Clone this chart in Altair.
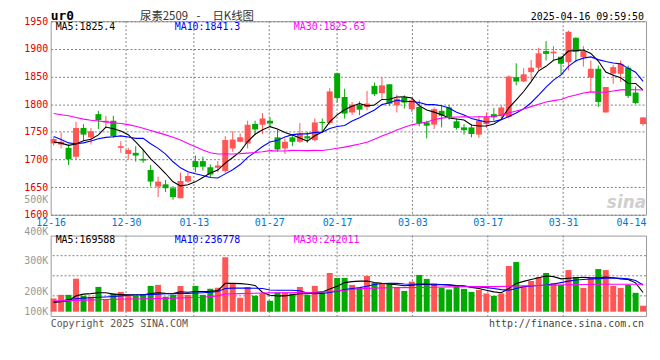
import altair as alt
import pandas as pd

# ---------------- data ----------------
dates = ["12-16","12-17","12-18","12-19","12-20","12-23","12-24","12-25","12-26","12-27","12-30","12-31",
         "01-02","01-03","01-06","01-07","01-08","01-09","01-10","01-13","01-14","01-15","01-16","01-17",
         "01-20","01-21","01-22","01-23","01-24","01-27",
         "02-05","02-06","02-07","02-10","02-11","02-12","02-13","02-14","02-17","02-18","02-19","02-20",
         "02-21","02-24","02-25","02-26","02-27","02-28",
         "03-03","03-04","03-05","03-06","03-07","03-10","03-11","03-12","03-13","03-14","03-17","03-18",
         "03-19","03-20","03-21","03-24","03-25","03-26","03-27","03-28","03-31",
         "04-01","04-02","04-03","04-07","04-08","04-09","04-10","04-11","04-14","04-15","04-16"]

opens = [1729,1727,1721,1705,1757,1740,1782,1767,1770,1721,
         1710,1712,1701,1681,1651,1655,1648,1630,1660,1697,
         1697,1686,1685,1679,1720,1732,1729,1764,1763,1770,
         1740,1720,1740,1732,1742,1735,1768,1766,1856,1813,
         1785,1799,1795,1833,1820,1836,1798,1812,1791,1795,
         1767,1763,1788,1794,1769,1758,1758,1745,1764,1782,
         1779,1777,1849,1841,1858,1866,1896,1892,1886,1876,
         1920,1885,1848,1864,1785,1855,1855,1866,1821,1764]
highs = [1740,1749,1727,1768,1764,1757,1788,1779,1779,1733,
         1721,1724,1718,1690,1669,1663,1652,1676,1676,1707,
         1705,1691,1697,1742,1751,1747,1770,1770,1784,1776,
         1754,1738,1746,1766,1750,1774,1774,1829,1857,1828,
         1804,1805,1824,1839,1848,1836,1817,1816,1810,1807,
         1770,1794,1798,1799,1774,1764,1764,1778,1785,1793,
         1798,1852,1874,1865,1880,1902,1914,1905,1886,1933,
         1921,1905,1879,1870,1831,1871,1879,1870,1832,1777]
lows = [1725,1720,1690,1699,1734,1727,1755,1757,1739,1712,
        1700,1696,1694,1651,1632,1641,1627,1630,1658,1677,
        1680,1667,1677,1676,1714,1731,1720,1744,1746,1758,
        1714,1710,1724,1730,1730,1733,1750,1763,1803,1774,
        1780,1780,1789,1815,1810,1797,1785,1792,1786,1760,
        1738,1755,1758,1772,1754,1745,1740,1739,1757,1770,
        1774,1774,1834,1840,1843,1861,1879,1880,1854,1861,
        1876,1868,1822,1795,1785,1837,1840,1811,1800,1761]
closes = [1737,1732,1700,1757,1745,1751,1771,1770,1742,1724,
          1717,1707,1698,1660,1660,1648,1632,1661,1670,1686,
          1687,1673,1689,1735,1736,1740,1763,1754,1774,1765,
          1718,1732,1732,1746,1738,1767,1766,1823,1811,1783,
          1799,1790,1801,1818,1834,1801,1810,1803,1807,1766,
          1761,1791,1779,1777,1757,1753,1746,1770,1777,1776,
          1794,1850,1841,1854,1866,1892,1891,1895,1873,1931,
          1895,1896,1864,1804,1831,1867,1873,1815,1802,1776]

ma5 = [1731.6,1729.5,1725.5,1728,1734,1736.7,1744.5,1758.6,1755.6,1751.4,
       1744.8,1731.9,1717.5,1701.2,1688.5,1674.6,1659.6,1652.2,1654.2,1659.5,
       1667.3,1675.4,1680.7,1693.5,1703.5,1714.2,1732.4,1745.6,1753.6,1759.4,
       1755,1748.7,1744.2,1738.7,1733.2,1742.9,1749.7,1767.9,1780.7,1789.9,
       1796.3,1801.3,1797,1798.5,1808.6,1808.9,1812.9,1813.2,1811.1,1797.4,
       1789.4,1785.6,1780.9,1774.9,1773.1,1771.5,1762.4,1760.5,1760.5,1764.3,
       1772.5,1793.3,1807.6,1822.9,1840.8,1860.4,1868.5,1879.3,1883.1,1896.2,
       1896.9,1898.1,1891.8,1878.1,1858.1,1852.4,1847.6,1837.9,1837.5,1825.4]
ma10 = [1741.5,1736,1730,1728.5,1730,1733.5,1737.5,1740,1741,1742.7,
        1740.7,1738.2,1738.1,1728.4,1720,1709.7,1695.8,1684.9,1677.7,1674,
        1671,1667.5,1666.5,1673.9,1681.5,1690.8,1703.9,1713.2,1723.5,1731.5,
        1734.6,1740.6,1744.9,1746.2,1746.3,1749,1749.2,1756,1759.7,1761.5,
        1769.6,1775.5,1782.5,1789.6,1799.2,1802.6,1807.1,1805.1,1804.8,1803,
        1799.2,1799.2,1797,1793,1785.3,1780.4,1774,1770.7,1767.7,1768.7,
        1772,1777.9,1784.1,1791.7,1802.6,1816.5,1830.9,1843.5,1853,1868.5,
        1878.6,1883.3,1885.5,1880.6,1877.1,1874.6,1872.9,1864.8,1857.8,1841.3]
ma30 = [1783,1781,1779,1776,1773,1771,1769.5,1768,1766.5,1765,
        1763,1760,1756.5,1752.5,1748.5,1744.5,1740,1735,1729,1723,
        1717,1712,1710,1710,1710,1710.5,1711.5,1712.5,1714,1716,
        1715.4,1715.4,1716.5,1716.2,1715.9,1716.4,1716.2,1718,1720.3,1722.3,
        1725,1727.8,1731.2,1736.5,1742.3,1747.4,1753.4,1758.1,1762.7,1765.3,
        1767.8,1771.8,1774.8,1776.2,1776.9,1777.3,1776.7,1777.2,1777.3,1777.7,
        1780.2,1784.1,1787.8,1791.4,1795.6,1799.8,1804,1806.4,1808.5,1813.4,
        1816.6,1820.1,1822.2,1821.7,1821.6,1823.8,1825.9,1826.3,1826.1,1825.63]

# volumes in thousands
vol_k = [117,149,149,292,140,132,219,105,161,175,
         149,140,149,228,237,132,149,228,149,228,
         149,202,211,482,249,123,219,140,161,96,
         170,170,161,219,149,228,170,342,298,298,
         237,211,316,254,249,254,219,184,266,325,
         290,249,211,196,228,202,175,193,161,140,
         161,404,439,228,272,307,342,254,237,368,
         307,211,298,377,368,228,211,237,167,53]
vma5_k = [82,88,98,140,155,160,168,168,155,152,
          150,150,150,160,168,162,160,176,172,178,
          178,180,186,250,250,248,243,232,170,145,
          140,140,150,158,160,168,175,200,225,257,
          266,270,272,258,250,245,238,230,234,240,
          243,236,240,238,232,228,215,205,190,175,
          168,205,250,268,285,300,315,310,290,295,
          300,305,300,300,307,300,290,285,255,169.588]
vma10_k = [88,95,108,115,120,123,127,130,134,140,
           145,148,150,152,155,158,160,162,162,165,
           168,172,178,205,208,208,208,207,205,192,
           190,190,190,185,165,160,162,170,180,195,
           205,213,225,240,249,252,250,245,243,245,
           245,242,240,235,230,225,222,218,213,205,
           195,190,205,220,228,232,235,245,257,270,
           280,285,290,292,295,297,295,290,275,236.778]
vma30_idx = [0,2,4,6,8,10,12,14,16,18,20,22,23,25,27,29,31,33,35,37,
             39,41,43,45,47,49,51,53,55,57,59,61,63,65,67,69,71,73,75,77,79]
vma30_k = [94,98,102,106,110,112,114,117,120,123,127,140,156,160,163,166,168,170,172,178,
           190,203,208,212,213,214,216,219,220,222,222,225,228,232,235,238,240,242,243,243,242.011]

axis_dates = ["12-16","12-30","01-13","01-27","02-17","03-03","03-17","03-31","04-14"]
grid_dates = axis_dates[1:-1]
price_ticks = [1600, 1650, 1700, 1750, 1800, 1850, 1900, 1950]
vol_tick_values = [0, 178000, 448000, 708000, 992000]
vol_tick_labels = ["100K", "200K", "300K", "400K", "500K"]

# ---------------- styling ----------------
RED = "#ff5555"
GREEN = "#00aa00"
GRID = "#808080"
MONO = "DejaVu Sans Mono"
CJK = "Noto Sans CJK SC"
W, H1, H2 = 600, 195, 81

df = pd.DataFrame({
    "date": dates, "open": opens, "high": highs, "low": lows, "close": closes,
    "ma5": ma5, "ma10": ma10, "ma30": ma30,
    "vol": [v * 1000 for v in vol_k],
    "vma5": [v * 1000 for v in vma5_k],
    "vma10": [v * 1000 for v in vma10_k],
})
df["dir"] = ["up" if c >= o else "down" for o, c in zip(opens, closes)]
df30 = pd.DataFrame({"date": [dates[i] for i in vma30_idx],
                     "vma30": [v * 1000 for v in vma30_k]})

xband = alt.Scale(type="band", domain=dates, paddingInner=0.2, paddingOuter=0)
xpoint = alt.Scale(type="point", domain=dates, padding=0)
yprice = alt.Scale(domain=[1600, 1950], nice=False, zero=False)
yvol = alt.Scale(domain=[0, 1000000], range=[76.7, -37.3], nice=False, zero=False)
color = alt.Color("dir:N", scale=alt.Scale(domain=["up", "down"], range=[RED, GREEN]), legend=None)

price_axis = alt.Axis(values=price_ticks, format="d", grid=True, gridColor=GRID, gridDash=[2, 2],
                      domain=False, ticks=False, labelColor="#e00000", labelFont=MONO,
                      labelFontSize=10, labelPadding=3, title=None)

# build labelExpr from tick lists
expr = "'" + vol_tick_labels[-1] + "'"
for k in range(len(vol_tick_values) - 2, -1, -1):
    mid = (vol_tick_values[k] + vol_tick_values[k + 1]) / 2
    expr = f"datum.value < {mid} ? '{vol_tick_labels[k]}' : ({expr})"
vol_axis = alt.Axis(values=vol_tick_values, labelExpr=expr, grid=False, domain=False, ticks=False,
                    labelColor="#999999", labelFont=MONO, labelFontSize=10, labelPadding=3,
                    title=None)

Xc = alt.X("date:O", scale=xband, axis=None, bandPosition=0.5)
Xb = alt.X("date:O", scale=xband, axis=None)


def yP(f):
    return alt.Y(f, scale=yprice, axis=price_axis)


def yV(f):
    return alt.Y(f, scale=yvol, axis=vol_axis)


def label(text, x, y, col, size=10, align="left", baseline="middle", font=MONO, weight="normal",
          style="normal"):
    return alt.Chart(pd.DataFrame({"t": [text]})).mark_text(
        align=align, baseline=baseline, font=font, fontSize=size, color=col,
        fontWeight=weight, fontStyle=style
    ).encode(x=alt.value(x), y=alt.value(y), text="t:N")


gdf = pd.DataFrame({"date": grid_dates})

# ---------------- main (price) panel ----------------
vgrid1 = alt.Chart(gdf).mark_rule(color=GRID, strokeDash=[2, 2], strokeWidth=1).encode(
    x=alt.X("date:O", scale=xpoint,
            axis=alt.Axis(values=axis_dates, labelColor="#0077cc", labelFont=MONO, labelFontSize=10,
                          labelAngle=0, ticks=False, domain=False, labelPadding=3, title=None,
                          grid=False, labelOverlap=False, labelBound=False))
)

base = alt.Chart(df)
wick = base.mark_rule(strokeWidth=1).encode(x=Xc, y=yP("low:Q"), y2="high:Q", color=color)
body = base.mark_bar().encode(x=Xb, y=yP("open:Q"), y2="close:Q", color=color)
l5 = base.mark_line(color="#000000", strokeWidth=1.1).encode(x=Xc, y=yP("ma5:Q"))
l10 = base.mark_line(color="#0000ff", strokeWidth=1.1).encode(x=Xc, y=yP("ma10:Q"))
l30 = base.mark_line(color="#ff00ff", strokeWidth=1.1).encode(x=Xc, y=yP("ma30:Q"))
candles = alt.layer(wick, body, l5, l10, l30)

main = alt.layer(
    vgrid1, candles,
    label("sina", 600, 188, "#cfcfcf", size=17, align="right", baseline="alphabetic",
          font="DejaVu Sans", weight="bold", style="italic"),
    label(f"MA5:{ma5[-1]}", 5, 6, "#000000"),
    label(f"MA10:{ma10[-1]}", 125, 6, "#0000ff"),
    label(f"MA30:{ma30[-1]}", 245, 6, "#ff00ff"),
    label("ur0", 0, -1, "#000000", size=13, baseline="alphabetic", weight="bold"),
    label("尿素2509", 90, -1, "#333333", size=11.5, baseline="alphabetic", font=CJK),
    label("-", 149, -1, "#333333", size=11.5, align="center", baseline="alphabetic", font=CJK),
    label("日K线图", 163, -1, "#333333", size=11.5, baseline="alphabetic", font=CJK),
    label("2025-04-16 09:59:50", 598, -1, "#000000", align="right", baseline="alphabetic"),
).resolve_scale(x="independent").properties(width=W, height=H1)

# ---------------- volume panel ----------------
vgrid2 = alt.Chart(gdf).mark_rule(color=GRID, strokeDash=[2, 2], strokeWidth=1).encode(
    x=alt.X("date:O", scale=xpoint, axis=None))
hgrid2 = alt.Chart(pd.DataFrame({"q": [1, 2, 3]})).mark_rule(
    color=GRID, strokeDash=[2, 2], strokeWidth=1).encode(
    y=alt.Y("q:Q", scale=alt.Scale(domain=[0, 4], nice=False), axis=None))

vbars = base.mark_bar().encode(x=Xb, y=yV("vol:Q"), color=color)
v5 = base.mark_line(color="#000000", strokeWidth=1.1).encode(x=Xc, y=yV("vma5:Q"))
v10 = base.mark_line(color="#0000ff", strokeWidth=1.1).encode(x=Xc, y=yV("vma10:Q"))
v30 = alt.Chart(df30).mark_line(color="#ff00ff", strokeWidth=1.1).encode(x=Xc, y=yV("vma30:Q"))
volgroup = alt.layer(vbars, v5, v10, v30)

volume = alt.layer(
    vgrid2, hgrid2, volgroup,
    label(f"MA5:{round(vma5_k[-1] * 1000)}", 5, 4.2, "#000000"),
    label(f"MA10:{round(vma10_k[-1] * 1000)}", 125, 4.2, "#0000ff"),
    label(f"MA30:{round(vma30_k[-1] * 1000)}", 245, 4.2, "#ff00ff"),
    label("Copyright 2025 SINA.COM", 0, 89, "#555555"),
    label("http://finance.sina.com.cn", 598, 89, "#444444", align="right"),
).resolve_scale(x="independent", y="independent").properties(width=W, height=H2)

chart = alt.vconcat(main, volume, spacing=21, bounds="flush").properties(
    padding={"left": 15, "top": 0, "right": 5, "bottom": 5},
    background="white",
).configure_view(stroke="#999999", strokeWidth=1)

chart.save("out.html", embed_options={"renderer": "svg", "actions": False})
